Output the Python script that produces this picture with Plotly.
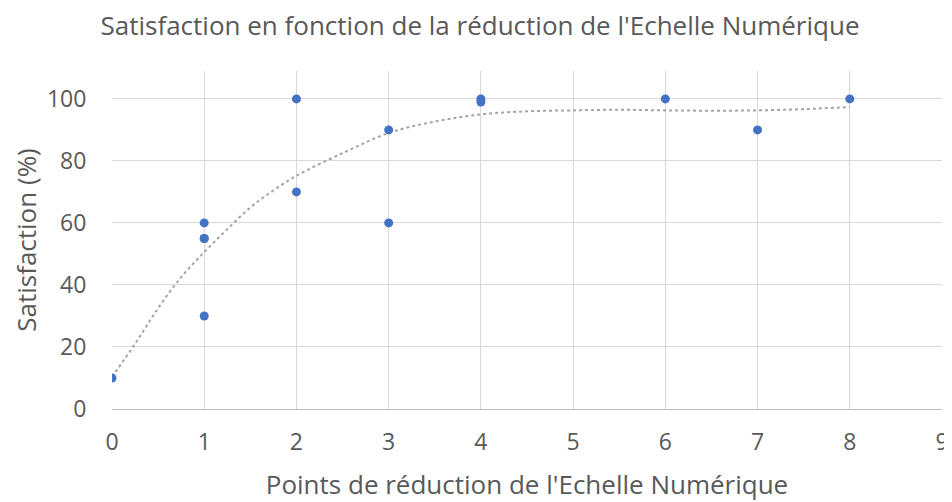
import plotly.graph_objects as go

# Observed data points
reduction = [0, 1, 1, 1, 1, 2, 2, 3, 3, 4, 4, 6, 7, 8]
satisfaction = [10, 60, 55, 55, 30, 100, 70, 90, 60, 100, 99, 100, 90, 100]

# Trend line
trend_x = [0, 0.25, 0.5, 0.75, 1, 1.25, 1.5, 1.75, 2, 2.5, 3, 3.5, 4, 4.5, 5, 5.5, 6, 6.5, 7, 7.5, 8]
trend_y = [10.3, 21, 32.5, 42.5, 50.6, 58, 65, 70.5, 75.2, 82.5, 89, 92.7, 95, 96, 96.3, 96.5, 96.3, 96.2, 96.3, 96.7, 97.4]

x_ticks = list(range(0, 10))
y_ticks = [0, 20, 40, 60, 80, 100]

font = "Open Sans"
grey = "#595959"

fig = go.Figure()
fig.add_trace(go.Scatter(x=trend_x, y=trend_y, mode="lines", line_shape="spline",
                         line=dict(color="#A5A5A5", width=2, dash="dot"), hoverinfo="skip"))
fig.add_trace(go.Scatter(x=reduction, y=satisfaction, mode="markers",
                         marker=dict(color="#4472C4", size=9)))

# the page body adds an 8px margin, so the figure is sized to fit the window
fig.update_layout(
    width=944, height=494,
    margin=dict(l=104, r=10, t=63, b=93),
    paper_bgcolor="white", plot_bgcolor="white",
    showlegend=False,
    font=dict(family=font, color=grey, size=23),
    title=dict(text="Satisfaction en fonction de la réduction de l'Echelle Numérique",
               x=0.5, xanchor="center", yref="container", y=1 - 18 / 494, yanchor="middle",
               font=dict(size=26, color=grey)),
)
fig.update_xaxes(range=[0, 9], tickvals=x_ticks, showgrid=True, gridcolor="#D9D9D9", gridwidth=1,
                 zeroline=False, showline=True, linecolor="#BFBFBF", linewidth=1,
                 ticks="outside", ticklen=12, tickcolor="rgba(0,0,0,0)", automargin=False,
                 title=dict(text="Points de réduction de l'Echelle Numérique", font=dict(size=26), standoff=20))
fig.update_yaxes(range=[0, 109], tickvals=y_ticks, showgrid=True, gridcolor="#D9D9D9", gridwidth=1,
                 zeroline=False, showline=False, automargin=False,
                 ticks="outside", ticklen=20, tickcolor="rgba(0,0,0,0)",
                 title=dict(text="Satisfaction (%)", font=dict(size=26), standoff=10))

fig.write_html("out.html")
